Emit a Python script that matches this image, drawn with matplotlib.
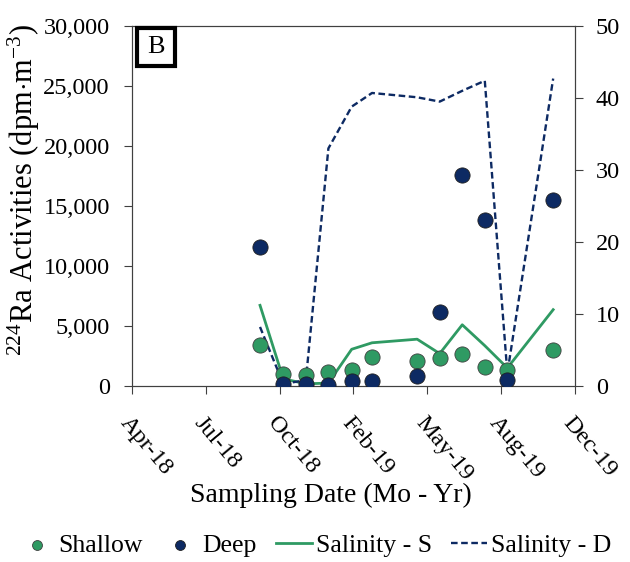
import matplotlib
matplotlib.use("Agg")
import matplotlib.pyplot as plt
import matplotlib.dates as mdates
import numpy as np
import pandas as pd
from matplotlib.patches import Rectangle

plt.rcParams['font.family'] = ['Liberation Serif', 'DejaVu Serif']
plt.rcParams['mathtext.fontset'] = 'custom'
plt.rcParams['mathtext.rm'] = 'Liberation Serif'

# sampling dates
dates = ['2018-09-24', '2018-10-26', '2018-11-26', '2018-12-27', '2019-01-28', '2019-02-25',
         '2019-04-28', '2019-05-29', '2019-06-29', '2019-07-30', '2019-08-30', '2019-11-01']
shallow = [3450, 1000, 900, 1150, 1350, 2450, 2100, 2350, 2650, 1550, 1350, 3000]
deep = [11600, 170, 170, 90, 450, 450, 850, 6200, 17600, 13850, 500, 15500]
sal_s = [11.2, 1.0, 0.3, 0.4, 5.1, 6.0, 6.5, 4.5, 8.5, 5.6, 2.5, 10.6]
sal_d = [8.2, 0.3, 0.8, 33.0, 38.8, 40.7, 40.1, 39.5, 41.0, 42.4, 1.8, 42.7]

tick_labels = ['Apr-18', 'Jul-18', 'Oct-18', 'Feb-19', 'May-19', 'Aug-19', 'Dec-19']
x_start, x_end = '2018-04-01', '2019-12-01'

green = '#2f9a63'
navy = '#0d2a63'

x = mdates.date2num(pd.to_datetime(dates))
x0 = mdates.date2num(pd.Timestamp(x_start))
x1 = mdates.date2num(pd.Timestamp(x_end))

fig = plt.figure(figsize=(6.3, 5.62), dpi=100)
ax = fig.add_axes([0.2095, 0.3132, 0.7032, 0.6405])
ax2 = ax.twinx()

ax.scatter(x, shallow, s=120, color=green, edgecolor='#404040', linewidth=0.6, zorder=3, label='Shallow')
ax.scatter(x, deep, s=120, color=navy, edgecolor='#202020', linewidth=0.6, zorder=4, label='Deep')
ax2.plot(x, sal_s, color=green, lw=2, label='Salinity - S')
ax2.plot(x, sal_d, color=navy, lw=1.7, ls=(0, (2.8, 1.5)), label='Salinity - D')

ax.set_xlim(x0, x1)
ax.set_ylim(0, 30000)
ax2.set_ylim(0, 50)
ax.set_xticks(np.linspace(x0, x1, len(tick_labels)))
ax.set_xticklabels(tick_labels, rotation=-50, ha='left', rotation_mode='anchor', fontsize=17.5)
ax.tick_params(axis='x', pad=13)
ax.set_yticks(np.arange(0, 30001, 5000))
ax.set_yticklabels([f'{v:,}' for v in range(0, 30001, 5000)], fontsize=17.5)
ax2.set_yticks(np.arange(0, 51, 10))
ax2.tick_params(axis='y', labelsize=17.5)
for a in (ax, ax2):
    a.tick_params(direction='out', length=6, width=0.8, color='#404040')
    for s in a.spines.values():
        s.set_color('#404040')
        s.set_linewidth(0.8)
ax.tick_params(axis='y', pad=10)
ax2.tick_params(axis='y', pad=9)
ax.set_zorder(ax2.get_zorder() + 1)
ax.patch.set_visible(False)

ax.set_ylabel(r'$\mathregular{^{224}}$Ra Activities (dpm$\cdot$m$\mathregular{^{-3}}$)', fontsize=22, va='center')
ax.yaxis.set_label_coords(-0.245, 0.545)
ax.set_xlabel('Sampling Date (Mo - Yr)', fontsize=20, va='center')
ax.xaxis.set_label_coords(0.45, -0.305)

ax.add_patch(Rectangle((0.012, 0.89), 0.085, 0.105, transform=ax.transAxes, fill=False,
                       lw=3, edgecolor='black', zorder=6, clip_on=False))
ax.text(0.055, 0.942, 'B', transform=ax.transAxes, ha='center', va='center', fontsize=19, zorder=7)

h1, l1 = ax.get_legend_handles_labels()
h2, l2 = ax2.get_legend_handles_labels()
fig.legend(h1 + h2, l1 + l2, loc='center', bbox_to_anchor=(0.5, 0.03), ncol=4, frameon=False,
           fontsize=18.5, handlelength=1.4, handletextpad=0.15, columnspacing=0.75, markerscale=0.65,
           borderpad=0.1, borderaxespad=0.1)

fig.savefig('out.png', dpi=100)
